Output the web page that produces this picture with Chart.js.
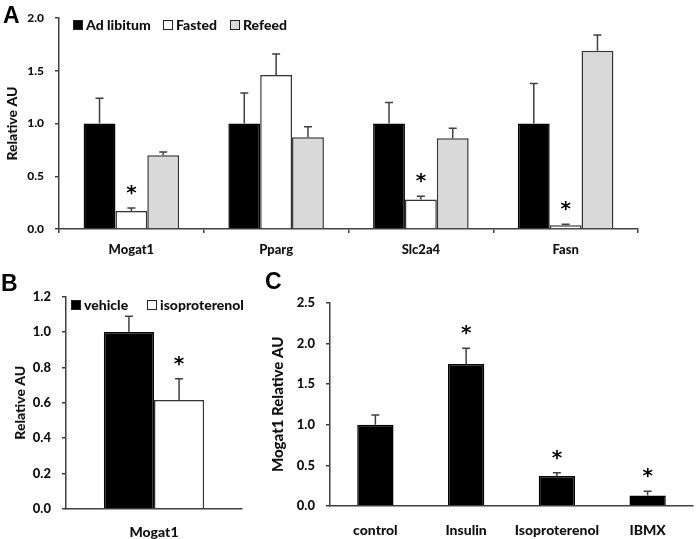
<!DOCTYPE html>
<html>
<head>
<meta charset="utf-8">
<script src="https://cdn.jsdelivr.net/npm/chart.js@4.4.0/dist/chart.umd.min.js"></script>
<style>
body { margin: 0; background: #fff; }
#wrap { position: relative; width: 697px; height: 539px; overflow: hidden; }
canvas { position: absolute; }
.panel { position: absolute; font: bold 23px/22px "Liberation Sans", Arial, sans-serif; color: #000; }
.item { position: absolute; height: 16px; display: flex; align-items: center; white-space: nowrap;
        font: 900 14px/16px Lato, sans-serif; color: #111; }
.item .box { width: 8px; height: 8px; border: 1px solid #222; margin-right: 3px; }
</style>
</head>
<body>
<div id="wrap">
  <canvas id="chartA" width="697" height="270" style="left:0;top:0"></canvas>
  <canvas id="chartB" width="260" height="269" style="left:0;top:270px"></canvas>
  <canvas id="chartC" width="437" height="269" style="left:260px;top:270px"></canvas>
  <div class="panel" style="left:3px;top:4px">A</div>
  <div class="panel" style="left:1px;top:272px">B</div>
  <div class="panel" style="left:265px;top:270px">C</div>
</div>
<script>
// panel A - fasting / refeeding
const genesA = ["Mogat1", "Pparg", "Slc2a4", "Fasn"];
const adLib = [1.0, 1.0, 1.0, 1.0];
const adLibErr = [0.24, 0.29, 0.20, 0.38];
const fasted = [0.17, 1.46, 0.28, 0.035];
const fastedErr = [0.03, 0.20, 0.03, 0.01];
const fastedSig = [true, false, true, true];
const refeed = [0.70, 0.87, 0.86, 1.69];
const refeedErr = [0.03, 0.10, 0.095, 0.15];
const ticksA = [0, 0.5, 1.0, 1.5, 2.0];

// panel B - isoproterenol in vivo
const genesB = ["Mogat1"];
const vehicle = [1.0];
const vehicleErr = [0.09];
const isoB = [0.615];
const isoBErr = [0.12];
const isoBSig = [true];
const ticksB = [0, 0.2, 0.4, 0.6, 0.8, 1.0, 1.2];

// panel C - treatments
const treatmentsC = ["control", "Insulin", "Isoproterenol", "IBMX"];
const mogat1C = [1.0, 1.745, 0.37, 0.13];
const mogat1CErr = [0.12, 0.195, 0.04, 0.05];
const mogat1CSig = [false, true, true, true];
const ticksC = [0, 0.5, 1.0, 1.5, 2.0, 2.5];

const axisColor = "#404040";
const textColor = "#111";
const barBorder = "#333";

Chart.defaults.font.family = "Lato";
Chart.defaults.color = textColor;
Chart.defaults.animation = false;

// error bars + significance stars
const errorBars = {
  id: "errorBars",
  afterDatasetsDraw(chart) {
    const ctx = chart.ctx;
    const y = chart.scales.y;
    chart.data.datasets.forEach((ds, i) => {
      chart.getDatasetMeta(i).data.forEach((bar, j) => {
        const top = y.getPixelForValue(ds.data[j] + ds.errors[j]);
        ctx.save();
        ctx.strokeStyle = axisColor;
        ctx.lineWidth = 1.5;
        ctx.beginPath();
        ctx.moveTo(bar.x, bar.y);
        ctx.lineTo(bar.x, top);
        ctx.moveTo(bar.x - 4, top);
        ctx.lineTo(bar.x + 4, top);
        ctx.stroke();
        if (ds.stars && ds.stars[j]) {
          ctx.fillStyle = "#000";
          ctx.font = "bold 20px 'DejaVu Sans'";
          ctx.textAlign = "center";
          ctx.textBaseline = "alphabetic";
          ctx.fillText("*", bar.x, top - 9);
        }
        ctx.restore();
      });
    });
  }
};

function yAxis(ticks, tickSize, title, titleSize, titlePad, width) {
  return {
    min: ticks[0],
    max: ticks[ticks.length - 1],
    afterBuildTicks: (s) => { s.ticks = ticks.map(v => ({ value: v })); },
    ticks: { callback: v => Number(v).toFixed(1), font: { size: tickSize, weight: "900" }, padding: 11 },
    grid: { drawOnChartArea: false, tickLength: 4, color: axisColor, lineWidth: 1.5 },
    border: { color: axisColor, width: 1.5 },
    title: { display: true, text: title, font: { size: titleSize, weight: "900" }, padding: { top: titlePad } },
    afterFit: (s) => { s.width = width; }
  };
}

function xAxis(labelSize, pad, height, showTicks) {
  return {
    grid: { display: showTicks, drawOnChartArea: false, offset: true, tickLength: 4, color: axisColor, lineWidth: 1.5 },
    border: { color: axisColor, width: 1.5 },
    ticks: { font: { size: labelSize, weight: "900" }, padding: pad, maxRotation: 0 },
    afterFit: (s) => { s.height = height; }
  };
}

function bars(label, data, errors, color, stars, catPct) {
  return {
    label, data, errors, stars,
    backgroundColor: color,
    borderColor: color === "#000000" ? "#000000" : barBorder,
    borderWidth: 1.5,
    categoryPercentage: catPct,
    barPercentage: 1
  };
}

function baseOptions(padding, x, y) {
  return {
    responsive: false,
    layout: { padding },
    plugins: { legend: { display: false }, tooltip: { enabled: false } },
    scales: { x, y }
  };
}

function htmlLegend(chart, lefts, centerY) {
  const wrap = document.getElementById("wrap");
  chart.data.datasets.forEach((ds, i) => {
    const item = document.createElement("div");
    item.className = "item";
    item.style.left = lefts[i] + "px";
    item.style.top = (centerY - 8) + "px";
    const box = document.createElement("span");
    box.className = "box";
    box.style.background = ds.backgroundColor;
    item.appendChild(box);
    item.appendChild(document.createTextNode(ds.label));
    wrap.appendChild(item);
  });
}

const chartA = new Chart(document.getElementById("chartA"), {
  type: "bar",
  data: {
    labels: genesA,
    datasets: [
      bars("Ad libitum", adLib, adLibErr, "#000000", null, 0.66),
      bars("Fasted", fasted, fastedErr, "#ffffff", fastedSig, 0.66),
      bars("Refeed", refeed, refeedErr, "#d9d9d9", null, 0.66)
    ]
  },
  options: baseOptions({ top: 12, right: 59, left: 0, bottom: 0 },
    xAxis(13, 9, 41, true),
    yAxis(ticksA, 12, "Relative AU", 14, 4, 59)),
  plugins: [errorBars]
});
htmlLegend(chartA, [73, 163, 230], 25);

const chartB = new Chart(document.getElementById("chartB"), {
  type: "bar",
  data: {
    labels: genesB,
    datasets: [
      bars("vehicle", vehicle, vehicleErr, "#000000", null, 0.57),
      bars("isoproterenol", isoB, isoBErr, "#ffffff", isoBSig, 0.57)
    ]
  },
  options: baseOptions({ top: 26.7, right: 18, left: 0, bottom: 0 },
    xAxis(14, 11, 30.3, false),
    yAxis(ticksB, 13, "Relative AU", 14, 11.6, 66)),
  plugins: [errorBars]
});
htmlLegend(chartB, [71, 147], 305);

const chartC = new Chart(document.getElementById("chartC"), {
  type: "bar",
  data: {
    labels: treatmentsC,
    datasets: [
      bars("Mogat1", mogat1C, mogat1CErr, "#000000", mogat1CSig, 0.4)
    ]
  },
  options: baseOptions({ top: 32.7, right: 4, left: 0, bottom: 0 },
    xAxis(14, 12.3, 33, false),
    yAxis(ticksC, 13, "Mogat1 Relative AU", 15, 9, 70)),
  plugins: [errorBars]
});
</script>
</body>
</html>
